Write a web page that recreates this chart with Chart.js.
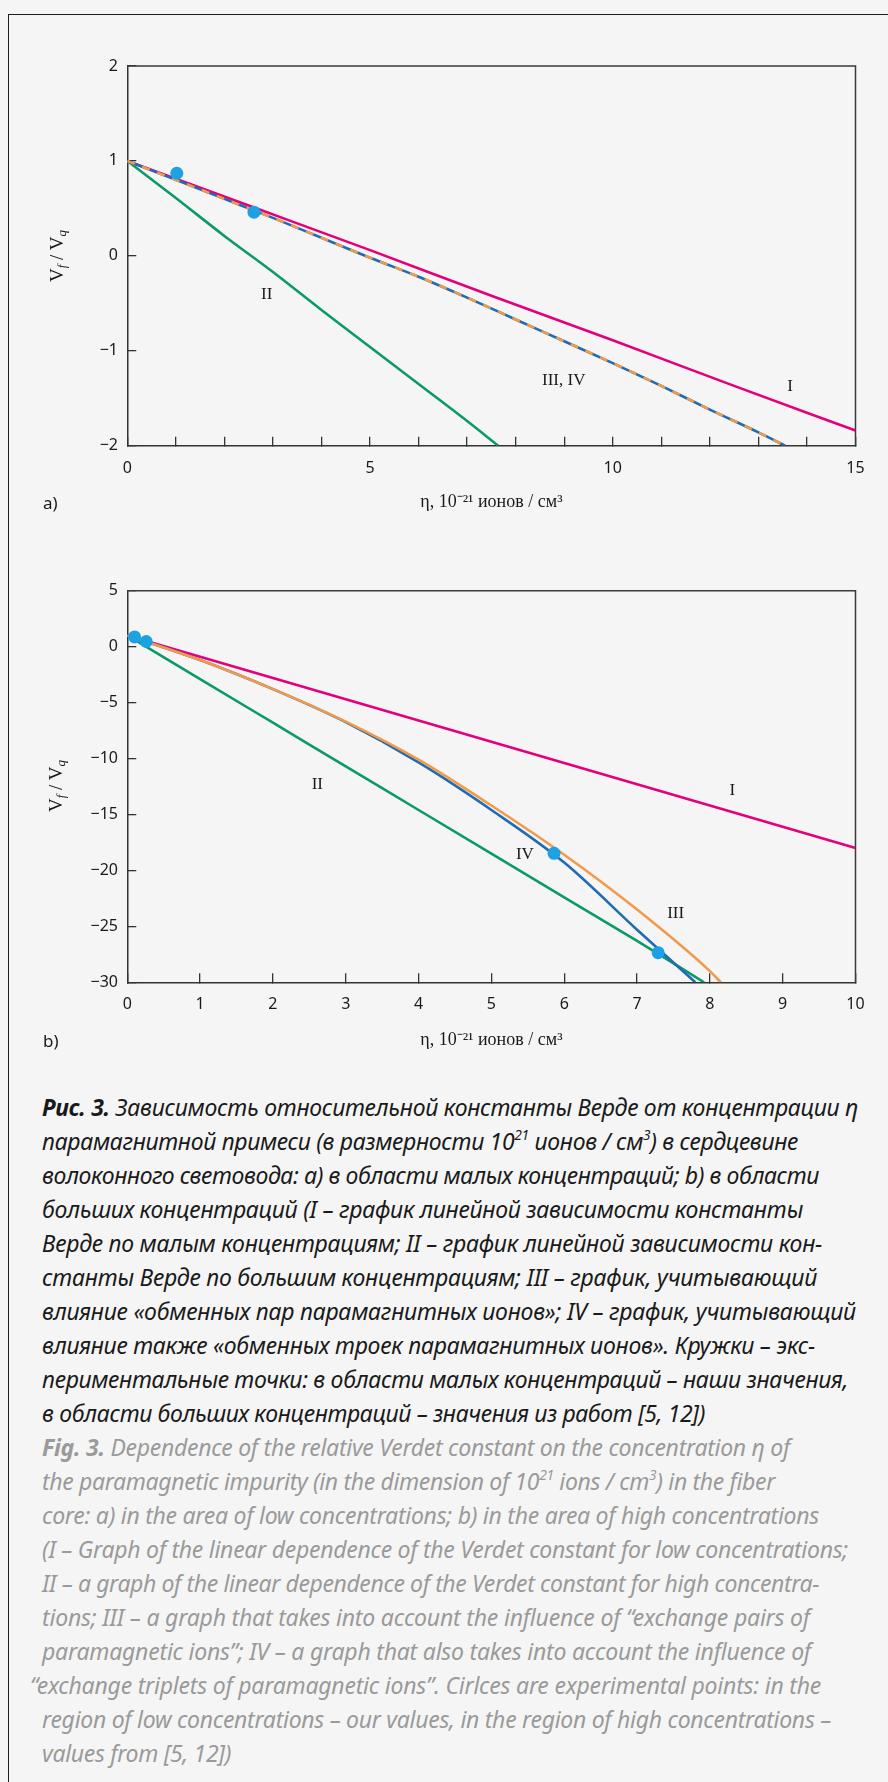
<!DOCTYPE html>
<html>
<head>
<meta charset="utf-8">
<script src="https://cdn.jsdelivr.net/npm/chart.js@4.4.1/dist/chart.umd.min.js"></script>
<style>
body { margin:0; width:888px; height:1782px; background:#f5f5f5; position:relative; overflow:hidden; }
#frame { position:absolute; left:8px; top:14px; width:1000px; height:2000px; border-left:1.5px solid #1e1e1e; border-top:1.5px solid #1e1e1e; }
.box { position:absolute; left:0; width:888px; height:540px; }
.yt { position:absolute; transform:translate(-50%,-50%) rotate(-90deg); font:19px 'Liberation Serif', serif; color:#1a1a1a; white-space:nowrap; }
.yt sub { font-style:italic; font-size:0.68em; vertical-align:-0.25em; }
.tag { position:absolute; left:43px; font:17px 'Noto Sans', sans-serif; color:#1a1a1a; transform:translateY(-50%); }
#caption { position:absolute; left:42px; top:1090px; font:italic 23px/34px 'Noto Sans', sans-serif; }
#caption div { white-space:nowrap; width:max-content; }
#caption .ru { color:#1a1a1a; }
#caption .en { color:#9a9a9a; }
#caption sup { font-size:0.6em; line-height:0; vertical-align:0.7em; }
</style>
</head>
<body>
<div id="frame"></div>

<div class="box" style="top:0"><canvas id="chartA"></canvas></div>
<div class="yt" style="left:58px; top:256px">V<sub>f</sub> / V<sub>q</sub></div>
<div class="tag" style="top:502px">a)</div>

<div class="box" style="top:540px"><canvas id="chartB"></canvas></div>
<div class="yt" style="left:57px; top:786px">V<sub>f</sub> / V<sub>q</sub></div>
<div class="tag" style="top:1040px">b)</div>

<div id="caption">
<div class="ru"><b>Рис. 3.</b> Зависимость относительной константы Верде от концентрации η</div>
<div class="ru">парамагнитной примеси (в размерности 10<sup>21</sup> ионов / см<sup>3</sup>) в сердцевине</div>
<div class="ru">волоконного световода: a) в области малых концентраций; b) в области</div>
<div class="ru">больших концентраций (I – график линейной зависимости константы</div>
<div class="ru">Верде по малым концентрациям; II – график линейной зависимости кон-</div>
<div class="ru">станты Верде по большим концентрациям; III – график, учитывающий</div>
<div class="ru">влияние «обменных пар парамагнитных ионов»; IV – график, учитывающий</div>
<div class="ru">влияние также «обменных троек парамагнитных ионов». Кружки – экс-</div>
<div class="ru">периментальные точки: в области малых концентраций – наши значения,</div>
<div class="ru">в области больших концентраций – значения из работ [5, 12])</div>
<div class="en"><b>Fig. 3.</b> Dependence of the relative Verdet constant on the concentration η of</div>
<div class="en">the paramagnetic impurity (in the dimension of 10<sup>21</sup> ions / cm<sup>3</sup>) in the fiber</div>
<div class="en">core: a) in the area of low concentrations; b) in the area of high concentrations</div>
<div class="en">(I – Graph of the linear dependence of the Verdet constant for low concentrations;</div>
<div class="en">II – a graph of the linear dependence of the Verdet constant for high concentra-</div>
<div class="en">tions; III – a graph that takes into account the influence of “exchange pairs of</div>
<div class="en">paramagnetic ions”; IV – a graph that also takes into account the influence of</div>
<div class="en" style="margin-left:-12px">“exchange triplets of paramagnetic ions”. Cirlces are experimental points: in the</div>
<div class="en">region of low concentrations – our values, in the region of high concentrations –</div>
<div class="en">values from [5, 12])</div>
</div>

<script>
// ---- chart a (low concentrations) ----
const aIx = [0, 2.5, 5, 7.5, 10, 12.5, 15];
const aIy = [1.00, 0.53, 0.06, -0.42, -0.89, -1.37, -1.84];
const aIIx = [0, 1, 2, 3, 4, 5, 6, 7, 7.64];
const aIIy = [1.00, 0.61, 0.21, -0.17, -0.57, -0.96, -1.35, -1.74, -2.00];
const aIIIx = [0, 1, 2, 3, 4, 5, 6, 7, 8, 9, 10, 11, 12, 13, 13.55];
const aIIIy = [1.00, 0.80, 0.60, 0.40, 0.19, -0.02, -0.22, -0.44, -0.67, -0.90, -1.13, -1.37, -1.62, -1.86, -2.00];
const aIVx = aIIIx;   // III and IV coincide here
const aIVy = aIIIy;
const aDotsX = [1.02, 2.61];
const aDotsY = [0.87, 0.46];
const aLabels = ['I', 'II', 'III, IV'];
const aLabelX = [13.65, 2.87, 8.99];
const aLabelY = [-1.38, -0.41, -1.31];

// ---- chart b (high concentrations) ----
const bIx = [0, 2, 4, 6, 8, 10];
const bIy = [1.0, -2.8, -6.6, -10.4, -14.2, -18.0];
const bIIx = [0, 1, 2, 3, 4, 5, 6, 7, 7.92];
const bIIy = [1.0, -2.9, -6.8, -10.7, -14.6, -18.5, -22.4, -26.3, -30.0];
const bIIIx = [0, 1, 2, 3, 4, 5, 6, 7, 8, 8.15];
const bIIIy = [1.0, -1.2, -3.8, -6.7, -10.1, -14.2, -18.6, -23.5, -29.0, -30.0];
const bIVx = [0, 1, 2, 3, 4, 5, 6, 7, 7.8];
const bIVy = [1.0, -1.2, -3.8, -6.75, -10.35, -14.6, -19.3, -25.3, -30.0];
const bDotsX = [0.10, 0.26, 5.86, 7.29];
const bDotsY = [0.87, 0.46, -18.47, -27.35];
const bLabels = ['I', 'II', 'III', 'IV'];
const bLabelX = [8.31, 2.61, 7.53, 5.46];
const bLabelY = [-12.9, -12.36, -23.83, -18.56];

const xTitle = 'η, 10⁻²¹ ионов / см³';

const MAGENTA = '#e4007c', GREEN = '#0a9a6a', BLUE = '#1f6cb2', ORANGE = '#f29a4b', DOT = '#1da1e2';
const AXIS = '#333';

function pts(xs, ys) { return xs.map((x, i) => ({x: x, y: ys[i]})); }
function curve(xs, ys, color, extra) {
	return Object.assign({
		data: pts(xs, ys), showLine: true, borderColor: color, borderWidth: 2.6,
		pointRadius: 0, fill: false, cubicInterpolationMode: 'monotone'
	}, extra || {});
}
function dots(xs, ys) {
	return { data: pts(xs, ys), showLine: false, pointRadius: 6.5, pointBackgroundColor: DOT,
		pointBorderWidth: 0, clip: false };
}
function minus(v) { return String(v).replace('-', '\u2212'); }

const framePlugin = {
	id: 'frame',
	beforeDatasetsDraw(chart) {
		const {ctx, chartArea: a} = chart;
		ctx.save();
		ctx.strokeStyle = '#3a3a3a';
		ctx.lineWidth = 1.5;
		ctx.beginPath();
		ctx.moveTo(a.left, a.top);
		ctx.lineTo(a.right, a.top);
		ctx.lineTo(a.right, a.bottom);
		ctx.stroke();
		ctx.restore();
	}
};

function labelPlugin(texts, xs, ys) {
	return {
		id: 'curveLabels',
		afterDatasetsDraw(chart) {
			const {ctx, scales} = chart;
			ctx.save();
			ctx.font = '17px "Liberation Serif"';
			ctx.fillStyle = '#1a1a1a';
			ctx.textAlign = 'center';
			ctx.textBaseline = 'middle';
			texts.forEach((t, i) => {
				ctx.fillText(t, scales.x.getPixelForValue(xs[i]), scales.y.getPixelForValue(ys[i]));
			});
			ctx.restore();
		}
	};
}

function makeChart(id, c) {
	return new Chart(document.getElementById(id), {
		type: 'scatter',
		data: { datasets: c.datasets },
		options: {
			responsive: true,
			maintainAspectRatio: false,
			animation: false,
			devicePixelRatio: 1,
			layout: { padding: c.padding },
			plugins: { legend: { display: false }, tooltip: { enabled: false } },
			scales: {
				x: {
					type: 'linear', min: c.xMin, max: c.xMax,
					border: { color: AXIS, width: 1.5 },
					grid: { drawOnChartArea: false, tickLength: -9, color: AXIS, lineWidth: 1.3 },
					ticks: {
						stepSize: 1, padding: 22, autoSkip: false, maxRotation: 0,
						color: '#1a1a1a', font: { family: 'Noto Sans', size: 16 },
						callback: v => (v % c.xLabelEvery === 0 ? minus(v) : '')
					},
					title: { display: true, text: xTitle, color: '#1a1a1a', padding: 0,
						font: { family: 'Liberation Serif', size: 18 } },
					afterFit: s => { s.height = c.xAxisHeight; }
				},
				y: {
					type: 'linear', min: c.yMin, max: c.yMax,
					border: { color: AXIS, width: 1.5 },
					grid: { drawOnChartArea: false, tickLength: -9, color: AXIS, lineWidth: 1.3 },
					ticks: {
						stepSize: c.yStep, padding: 18.3,
						color: '#1a1a1a', font: { family: 'Noto Sans', size: 16 },
						callback: v => minus(v)
					},
					afterFit: s => { s.width = 127.3; }
				}
			}
		},
		plugins: [framePlugin, labelPlugin(c.labels, c.labelX, c.labelY)]
	});
}

makeChart('chartA', {
	datasets: [
		dots(aDotsX, aDotsY),
		curve(aIIIx, aIIIy, ORANGE, { borderDash: [8, 8] }),
		curve(aIVx, aIVy, BLUE),
		curve(aIx, aIy, MAGENTA),
		curve(aIIx, aIIy, GREEN)
	],
	padding: { left: 0, right: 32.5, top: 66, bottom: 27.2 },
	xMin: 0, xMax: 15, xLabelEvery: 5,
	yMin: -2, yMax: 2, yStep: 1,
	xAxisHeight: 67.1,
	labels: aLabels, labelX: aLabelX, labelY: aLabelY
});

makeChart('chartB', {
	datasets: [
		dots(bDotsX, bDotsY),
		curve(bIIIx, bIIIy, ORANGE),
		curve(bIVx, bIVy, BLUE),
		curve(bIx, bIy, MAGENTA),
		curve(bIIx, bIIy, GREEN)
	],
	padding: { left: 0, right: 32.5, top: 50.7, bottom: 29.2 },
	xMin: 0, xMax: 10, xLabelEvery: 1,
	yMin: -30, yMax: 5, yStep: 5,
	xAxisHeight: 68.5,
	labels: bLabels, labelX: bLabelX, labelY: bLabelY
});

// caption lines: stretch each to the width it has in the printed figure
const lineWidths = [816, 756, 777, 761, 780, 775, 814, 773, 806, 663,
	748, 733, 777, 806, 777, 768, 769, 791, 789, 189];
function fitCaption() {
	document.querySelectorAll('#caption div').forEach((el, i) => {
		el.style.letterSpacing = '0px';
		const w = el.getBoundingClientRect().width;
		const n = el.textContent.length;
		let ls = (lineWidths[i] - w) / n;
		ls = Math.max(-2, Math.min(1.5, ls));
		el.style.letterSpacing = ls.toFixed(3) + 'px';
	});
}
fitCaption();
document.fonts.ready.then(fitCaption);
</script>
</body>
</html>
